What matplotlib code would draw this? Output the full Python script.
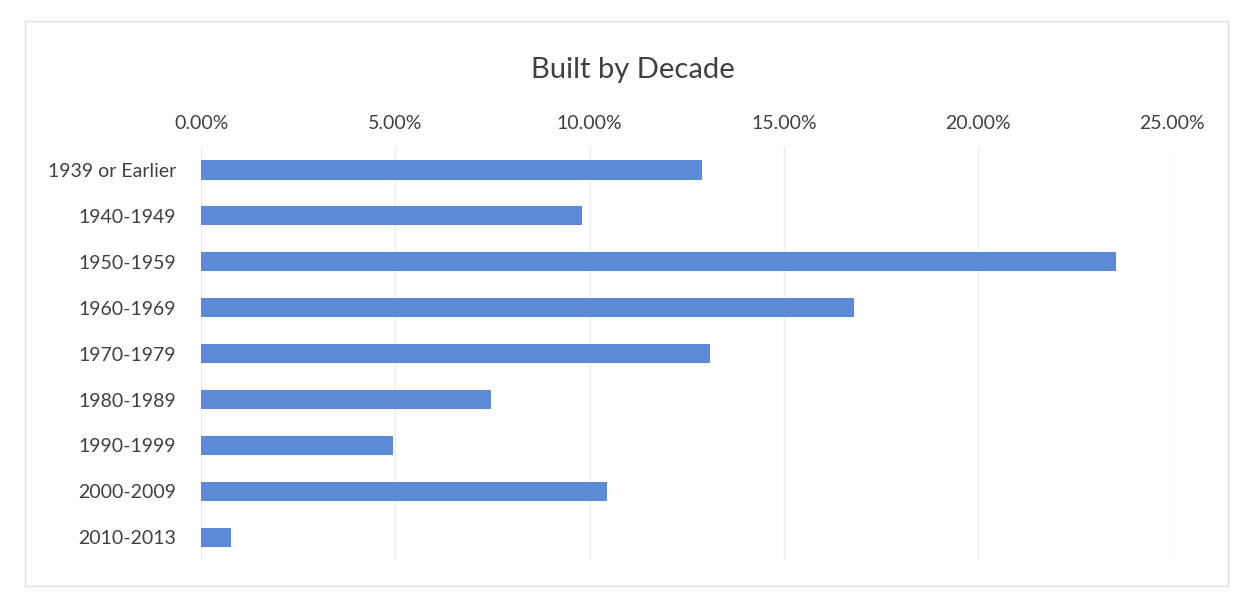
import matplotlib
matplotlib.use("Agg")
import matplotlib.pyplot as plt
from matplotlib.ticker import FuncFormatter
from matplotlib.patches import Rectangle

categories = ["1939 or Earlier", "1940-1949", "1950-1959", "1960-1969", "1970-1979",
              "1980-1989", "1990-1999", "2000-2009", "2010-2013"]
values = [12.9, 9.8, 23.55, 16.8, 13.1, 7.45, 4.95, 10.45, 0.78]
xticks = [0, 5, 10, 15, 20, 25]

plt.rcParams['font.family'] = ['Lato', 'DejaVu Sans']

fig = plt.figure(figsize=(12.34, 6.07), dpi=100)
fig.patch.set_facecolor("white")
ax = fig.add_axes([0.163, 0.077, 0.787, 0.681])

ypos = list(range(len(categories)))
ax.barh(ypos, values, height=0.42, color="#5b8bd6", zorder=3)
ax.set_ylim(len(categories) - 0.5, -0.5)
ax.set_xlim(0, 25)
ax.set_yticks(ypos)
ax.set_yticklabels(categories, fontsize=14, color="#404040")
ax.set_xticks(xticks)
ax.xaxis.set_major_formatter(FuncFormatter(lambda v, p: f"{v:.2f}%"))
ax.xaxis.tick_top()
ax.tick_params(axis="x", labelsize=14, labelcolor="#404040", length=0, pad=11)
ax.tick_params(axis="y", length=0, pad=18)
ax.grid(axis="x", color="#ededed", linewidth=1, zorder=0)
for s in ax.spines.values():
    s.set_visible(False)

fig.text(0.513, 0.885, "Built by Decade", ha="center", va="center", fontsize=21, color="#404040")
fig.patches.append(Rectangle((0.02, 0.035), 0.975, 0.93, transform=fig.transFigure,
                             fill=False, edgecolor="#e0e0e0", linewidth=1))

fig.savefig("out.png", dpi=100)
